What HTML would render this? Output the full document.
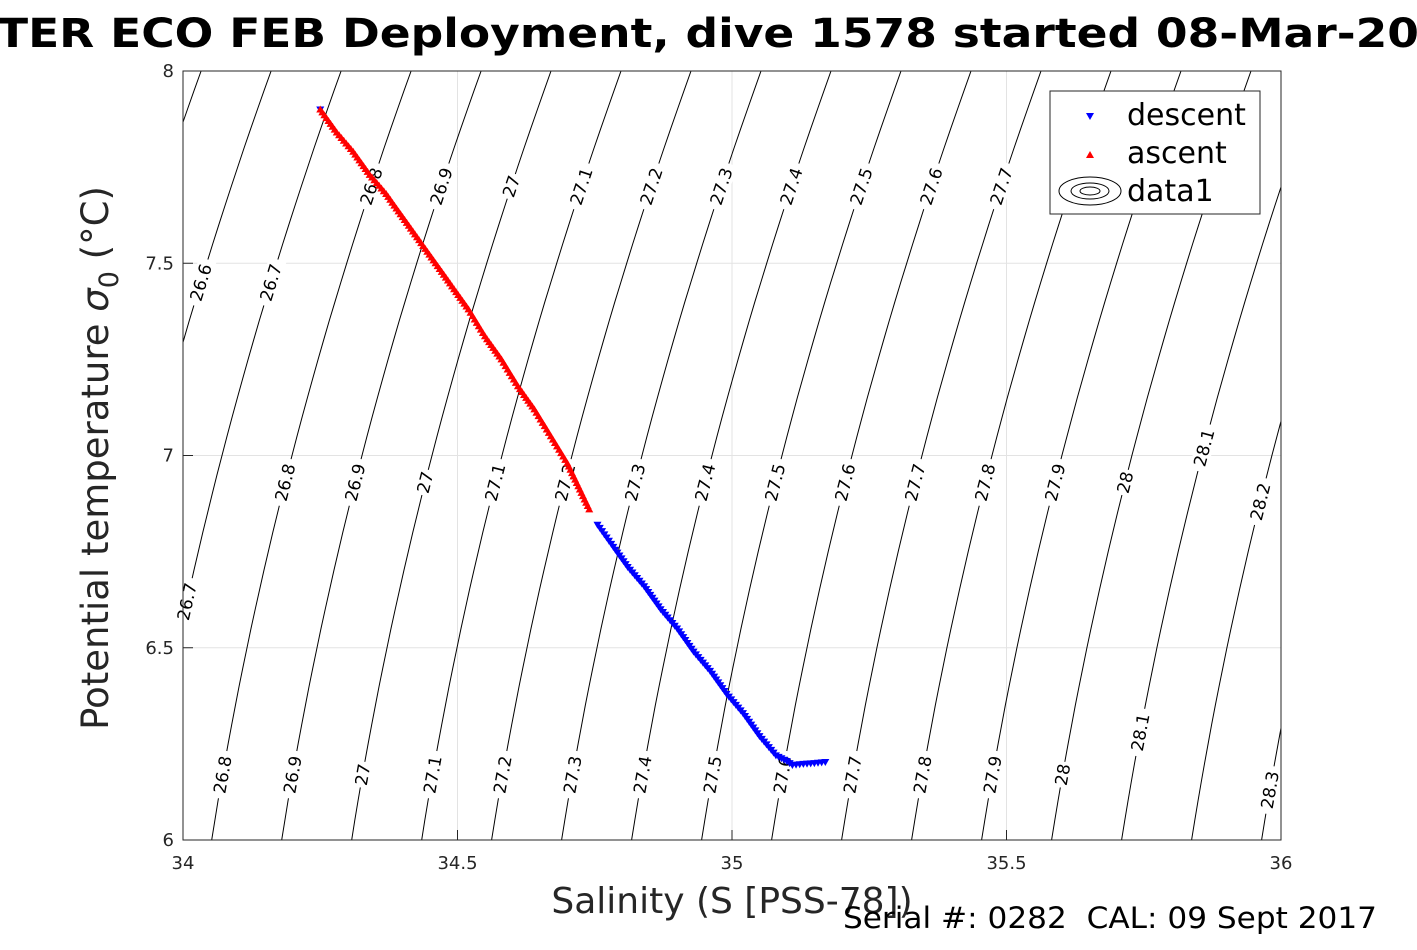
<!DOCTYPE html>
<html><head><meta charset="utf-8"><style>
body{margin:0;background:#fff;width:1417px;height:945px;overflow:hidden}
svg{font-family:"DejaVu Sans","Liberation Sans",sans-serif}
</style></head><body>
<svg id="chart" width="1417" height="945" xmlns="http://www.w3.org/2000/svg">
<defs><clipPath id="clip"><rect x="183" y="71" width="1098" height="769"/></clipPath></defs>
<rect x="0" y="0" width="1417" height="945" fill="#fff"/>
<text x="-3" y="47" font-size="40" font-weight="bold" fill="#000" textLength="1422" lengthAdjust="spacingAndGlyphs">TER ECO FEB Deployment, dive 1578 started 08-Mar-20</text>
<rect x="183" y="71" width="1098" height="769" fill="#fff"/>
<g id="grid"></g>
<g id="contours" clip-path="url(#clip)"></g>
<g id="clabels"></g>
<g id="series"></g>
<rect x="183" y="71" width="1098" height="769" fill="none" stroke="#262626" stroke-width="1"/>
<g id="ticks"></g>
<text transform="translate(108,458) rotate(-90)" text-anchor="middle" font-size="37" fill="#262626">Potential temperature <tspan font-style="italic">σ</tspan><tspan font-size="27" dy="10">0</tspan><tspan dy="-10"> (°C)</tspan></text>
<text x="732" y="913" text-anchor="middle" font-size="36" fill="#262626">Salinity (S [PSS-78])</text>
<text x="843" y="928" font-size="29" fill="#000" textLength="534" lengthAdjust="spacingAndGlyphs">Serial #: 0282&#160;&#160;CAL: 09 Sept 2017</text>
<g>
<rect x="1050" y="91" width="210" height="123" fill="#fff" stroke="#262626" stroke-width="1"/>
<path d="M1086,113 L1094,113 L1090,120 Z" fill="#0000ff"/>
<text x="1127" y="125" font-size="30">descent</text>
<path d="M1086,158 L1094,158 L1090,151 Z" fill="#ff0000"/>
<text x="1127" y="163" font-size="30">ascent</text>
<ellipse cx="1090" cy="191" rx="31" ry="14" fill="none" stroke="#000"/>
<ellipse cx="1090" cy="191" rx="19" ry="8" fill="none" stroke="#000"/>
<ellipse cx="1090" cy="191" rx="10" ry="4" fill="none" stroke="#000"/>
<text x="1127" y="201" font-size="30">data1</text>
</g>
</svg>
<script>
const xTicks=[34,34.5,35,35.5,36];
const yTicks=[6,6.5,7,7.5,8];
const sigmaLevels=[26.3,26.4,26.5,26.6,26.7,26.8,26.9,27.0,27.1,27.2,27.3,27.4,27.5,27.6,27.7,27.8,27.9,28.0,28.1,28.2,28.3,28.4,28.5];
const ascentS=[34.25,34.28,34.31,34.34,34.37,34.40,34.43,34.46,34.49,34.52,34.55,34.58,34.61,34.64,34.67,34.70,34.72,34.74];
const ascentT=[7.90,7.84,7.79,7.73,7.68,7.62,7.56,7.50,7.44,7.38,7.31,7.25,7.18,7.12,7.05,6.98,6.92,6.86];
const descentS=[34.25,34.755,34.78,34.81,34.84,34.87,34.90,34.93,34.96,34.99,35.02,35.05,35.08,35.10,35.11,35.13,35.15,35.17];
const descentT=[7.90,6.82,6.77,6.71,6.66,6.60,6.55,6.49,6.44,6.38,6.33,6.27,6.22,6.205,6.195,6.198,6.200,6.203];
const labelRows=[
 {T:7.70,sig:[26.8,26.9,27.0,27.1,27.2,27.3,27.4,27.5,27.6,27.7]},
 {T:7.45,sig:[26.6,26.7]},
 {T:6.93,sig:[26.8,26.9,27.0,27.1,27.2,27.3,27.4,27.5,27.6,27.7,27.8,27.9,28.0]},
 {T:7.02,sig:[28.1]},{T:6.88,sig:[28.2]},{T:6.62,sig:[26.7]},
 {T:6.17,sig:[26.8,26.9,27.0,27.1,27.2,27.3,27.4,27.5,27.6,27.7,27.8,27.9,28.0]},
 {T:6.28,sig:[28.1]},{T:6.13,sig:[28.3]}
];
const NS="http://www.w3.org/2000/svg";
const X0=183,X1=1281,Y0=840,Y1=71;
const xs=s=>X0+(s-34)/2*(X1-X0);
const ys=t=>Y0-(t-6)/2*(Y0-Y1);
function salOf(sig,T){const d=T-7;return 34.4535+1.275*(sig-27)+0.1816*d+0.0353*d*d;}
function mk(tag,attrs,parent){const e=document.createElementNS(NS,tag);for(const k in attrs)e.setAttribute(k,attrs[k]);parent.appendChild(e);return e;}
const grid=document.getElementById('grid'),ticks=document.getElementById('ticks');
xTicks.forEach(v=>{
 const l=mk('line',{x1:xs(v),x2:xs(v),y1:Y1,y2:Y0,stroke:'#e3e3e3'},grid);
 
 
 const t=mk('text',{x:xs(v),y:869,'text-anchor':'middle','font-size':18,fill:'#262626'},ticks);
 t.textContent=v;
 
 
 mk('line',{x1:xs(v),x2:xs(v),y1:Y0,y2:Y0-10,stroke:'#262626'},ticks);
});
yTicks.forEach(v=>{
 const l=mk('line',{x1:X0,x2:X1,y1:ys(v),y2:ys(v),stroke:'#e3e3e3'},grid);
 
 
 const t=mk('text',{x:174,y:ys(v)+6,'text-anchor':'end','font-size':18,fill:'#262626'},ticks);
 t.textContent=v;
 
 
 mk('line',{x1:X0,x2:X0+10,y1:ys(v),y2:ys(v),stroke:'#262626'},ticks);
});
const cg=document.getElementById('contours');
sigmaLevels.forEach(sg=>{
 let pts=[];for(let T=5.9;T<=8.1;T+=0.05)pts.push(xs(salOf(sg,T)).toFixed(1)+','+ys(T).toFixed(1));
 const p=mk('polyline',{points:pts.join(' '),fill:'none',stroke:'#000','stroke-width':1},cg);
 
 
});
const lg=document.getElementById('clabels');
labelRows.forEach(r=>r.sig.forEach(sg=>{
 const x=xs(salOf(sg,r.T)),y=ys(r.T);
 const x2=xs(salOf(sg,r.T+0.05)),y2=ys(r.T+0.05);
 const ang=Math.atan2(y2-y,x2-x)*180/Math.PI;
 const g=mk('g',{transform:`translate(${x},${y}) rotate(${ang})`},lg);
 
 
 const txt=String(sg.toFixed(1)).replace(/\.0$/,'');
 mk('rect',{x:-txt.length*5.5-2,y:-9,width:txt.length*11+4,height:18,fill:'#fff'},g);
 const t=mk('text',{x:0,y:6,'text-anchor':'middle','font-size':17,fill:'#000'},g);
 t.textContent=txt;
}));
const sg=document.getElementById('series');
function plot(S,T,color,down,name){
 S.forEach((s,i)=>{
  const x=xs(s),y=ys(T[i]);
  const d=down?`M${x-4},${y-3} L${x+4},${y-3} L${x},${y+4} Z`:`M${x-4},${y+3} L${x+4},${y+3} L${x},${y-4} Z`;
  const p=mk('path',{d:d,fill:color},sg);
  
  
  if(i>0){
   const xp=xs(S[i-1]),yp=ys(T[i-1]);
   if(Math.hypot(x-xp,y-yp)<60){
    const n=Math.ceil(Math.hypot(x-xp,y-yp)/4);
    for(let k=1;k<n;k++){const xx=xp+(x-xp)*k/n,yy=yp+(y-yp)*k/n;
     const dd=down?`M${xx-4},${yy-3} L${xx+4},${yy-3} L${xx},${yy+4} Z`:`M${xx-4},${yy+3} L${xx+4},${yy+3} L${xx},${yy-4} Z`;
     const q=mk('path',{d:dd,fill:color},sg);
     
     }
   }
  }
 });
}
plot(descentS,descentT,'#0000ff',true,'descent-marker');
plot(ascentS,ascentT,'#ff0000',false,'ascent-marker');
</script>
</body></html>
